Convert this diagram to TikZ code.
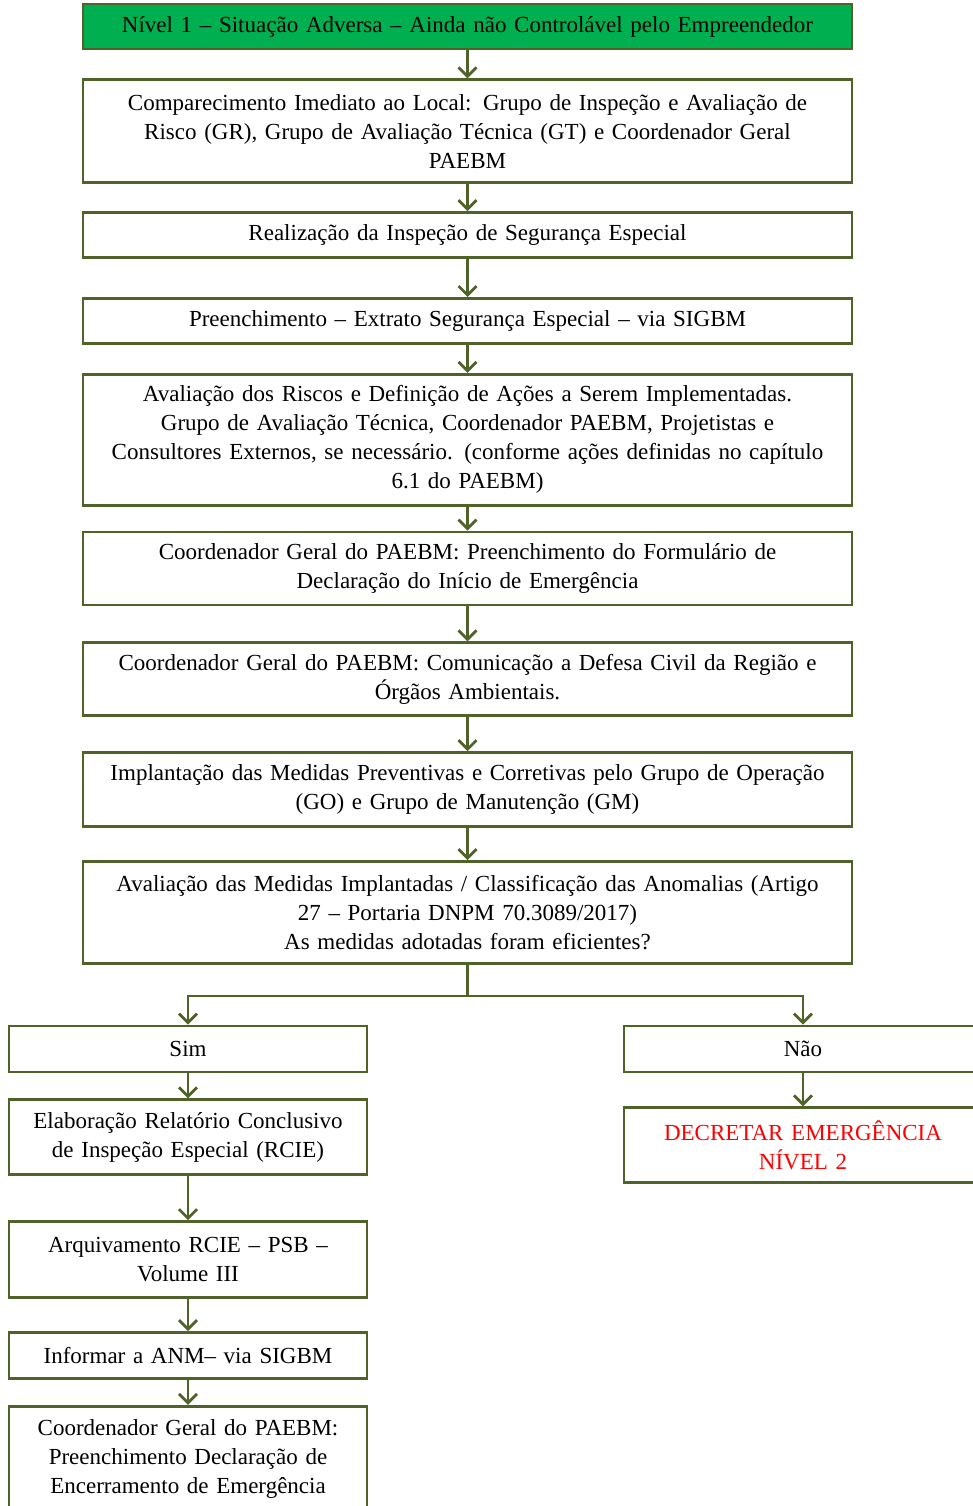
\documentclass[tikz,border=0pt]{standalone}
\usepackage{fontspec}
\setmainfont{Liberation Serif}
\usetikzlibrary{arrows.meta,positioning}
\definecolor{linha}{HTML}{4F6228}
\definecolor{verde}{HTML}{00B050}
\definecolor{alerta}{HTML}{FF0000}

\begin{document}
\begin{tikzpicture}[x=1pt, y=-1pt,
  font=\fontsize{23}{29}\selectfont,
  caixa/.style={draw=linha, line width=2.8pt, align=center, minimum width=769pt, text width=760pt, inner sep=2pt},
  lado/.style={caixa, minimum width=358pt, text width=350pt},
  seta/.style={-{Straight Barb[length=9pt,width=18pt]}, line width=2.8pt, draw=linha}]
\clip (0,0) rectangle (973,1506);
% cadeia principal
\node[caixa, fill=verde, minimum height=45pt] (n1) at (467.5,26.5) {Nível 1 -- Situação Adversa -- Ainda não Controlável pelo Empreendedor};
\node[caixa, minimum height=103pt, below=28pt of n1] (n2) {Comparecimento Imediato ao Local: Grupo de Inspeção e Avaliação de\\Risco (GR), Grupo de Avaliação Técnica (GT) e Coordenador Geral\\PAEBM};
\node[caixa, minimum height=45pt, below=27pt of n2] (n3) {Realização da Inspeção de Segurança Especial};
\node[caixa, minimum height=45pt, below=38pt of n3] (n4) {Preenchimento -- Extrato Segurança Especial -- via SIGBM};
\node[caixa, minimum height=131pt, below=28pt of n4] (n5) {Avaliação dos Riscos e Definição de Ações a Serem Implementadas.\\Grupo de Avaliação Técnica, Coordenador PAEBM, Projetistas e\\Consultores Externos, se necessário. (conforme ações definidas no capítulo\\6.1 do PAEBM)};
\node[caixa, minimum height=73pt, below=24pt of n5] (n6) {Coordenador Geral do PAEBM: Preenchimento do Formulário de\\Declaração do Início de Emergência};
\node[caixa, minimum height=73pt, below=35pt of n6] (n7) {Coordenador Geral do PAEBM: Comunicação a Defesa Civil da Região e\\Órgãos Ambientais.};
\node[caixa, minimum height=74pt, below=34pt of n7] (n8) {Implantação das Medidas Preventivas e Corretivas pelo Grupo de Operação\\(GO) e Grupo de Manutenção (GM)};
\node[caixa, minimum height=102pt, below=32pt of n8] (n9) {Avaliação das Medidas Implantadas / Classificação das Anomalias (Artigo\\27 -- Portaria DNPM 70.3089/2017)\\As medidas adotadas foram eficientes?};
\foreach \a/\b in {n1/n2, n2/n3, n3/n4, n4/n5, n5/n6, n6/n7, n7/n8, n8/n9}
  \draw[seta] (\a) -- (\b);
% decisao
\node[lado, minimum height=46pt] (sim) at (188,1049) {Sim};
\node[lado, minimum height=46pt] (nao) at (803,1049) {Não};
\coordinate (ramo) at (467.5,996);
\draw[linha, line width=2.8pt] (n9.south) -- (ramo);
\draw[seta] (ramo) -| (sim.north);
\draw[seta] (ramo) -| (nao.north);
% ramo nao
\node[lado, minimum height=75pt, text=alerta, below=33pt of nao] (dec) {DECRETAR EMERGÊNCIA\\NÍVEL 2};
\draw[seta] (nao) -- (dec);
% ramo sim
\node[lado, minimum height=75pt, below=25pt of sim] (rcie) {Elaboração Relatório Conclusivo\\de Inspeção Especial (RCIE)};
\node[lado, minimum height=76pt, below=44pt of rcie] (arq) {Arquivamento RCIE -- PSB --\\Volume III};
\node[lado, minimum height=46pt, below=32pt of arq] (anm) {Informar a ANM-- via SIGBM};
\node[lado, minimum height=106pt, below=25pt of anm] (fim) {Coordenador Geral do PAEBM:\\Preenchimento Declaração de\\Encerramento de Emergência};
\foreach \a/\b in {sim/rcie, rcie/arq, arq/anm, anm/fim}
  \draw[seta] (\a) -- (\b);
\end{tikzpicture}
\end{document}
